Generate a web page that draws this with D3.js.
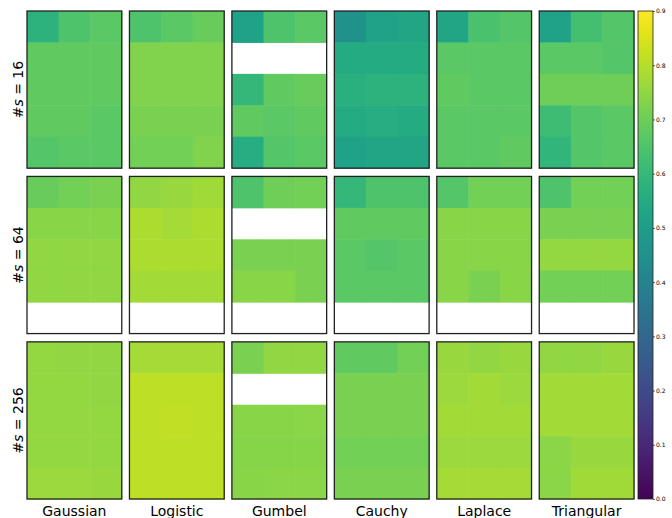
<!DOCTYPE html>
<html>
<head>
<meta charset="utf-8">
<script src="https://cdn.jsdelivr.net/npm/d3@7"></script>
<style>
  html, body { margin: 0; padding: 0; background: #fff; }
  svg { display: block; font-family: "DejaVu Sans", sans-serif; }
</style>
</head>
<body>
<svg id="chart" width="672" height="518"></svg>
<script>
// Distributions (columns of the grid) and sample sizes (rows of the grid)
const distributions = ["Gaussian", "Logistic", "Gumbel", "Cauchy", "Laplace", "Triangular"];
const sampleSizes = [16, 64, 256];
const colorTicks = [0.0, 0.1, 0.2, 0.3, 0.4, 0.5, 0.6, 0.7, 0.8, 0.9];

// Each panel: 5 rows x 3 columns of scores; null = not evaluated
const s16 = [
  [[0.58,0.65,0.67],[0.68,0.68,0.68],[0.68,0.68,0.68],[0.68,0.68,0.67],[0.66,0.67,0.67]],
  [[0.65,0.67,0.69],[0.73,0.73,0.73],[0.73,0.73,0.73],[0.72,0.72,0.72],[0.71,0.71,0.73]],
  [[0.52,0.65,0.67],[null,null,null],[0.60,0.68,0.69],[0.68,0.67,0.68],[0.56,0.66,0.67]],
  [[0.45,0.52,0.53],[0.55,0.55,0.55],[0.57,0.58,0.58],[0.55,0.56,0.55],[0.52,0.53,0.53]],
  [[0.53,0.64,0.66],[0.67,0.67,0.67],[0.68,0.67,0.67],[0.67,0.67,0.67],[0.67,0.67,0.68]],
  [[0.52,0.63,0.66],[0.67,0.67,0.66],[0.70,0.70,0.70],[0.62,0.66,0.67],[0.59,0.66,0.67]]
];
const s64 = [
  [[0.69,0.71,0.72],[0.74,0.74,0.74],[0.75,0.75,0.75],[0.75,0.75,0.75],[null,null,null]],
  [[0.75,0.76,0.77],[0.79,0.78,0.79],[0.79,0.79,0.79],[0.775,0.775,0.775],[null,null,null]],
  [[0.65,0.70,0.71],[null,null,null],[0.72,0.72,0.72],[0.74,0.74,0.72],[null,null,null]],
  [[0.60,0.65,0.65],[0.68,0.68,0.68],[0.67,0.66,0.67],[0.67,0.67,0.67],[null,null,null]],
  [[0.66,0.71,0.71],[0.74,0.74,0.74],[0.74,0.74,0.74],[0.74,0.72,0.74],[null,null,null]],
  [[0.65,0.71,0.71],[0.72,0.72,0.72],[0.755,0.755,0.755],[0.71,0.71,0.71],[null,null,null]]
];
const s256 = [
  [[0.755,0.75,0.75],[0.755,0.755,0.75],[0.755,0.755,0.755],[0.755,0.755,0.755],[0.765,0.765,0.76]],
  [[0.78,0.78,0.78],[0.81,0.81,0.81],[0.81,0.815,0.81],[0.81,0.81,0.81],[0.81,0.81,0.81]],
  [[0.72,0.75,0.75],[null,null,null],[0.74,0.74,0.745],[0.735,0.735,0.735],[0.74,0.745,0.745]],
  [[0.68,0.68,0.71],[0.72,0.72,0.72],[0.72,0.72,0.72],[0.71,0.71,0.71],[0.72,0.72,0.72]],
  [[0.76,0.75,0.76],[0.765,0.775,0.765],[0.775,0.775,0.775],[0.765,0.765,0.765],[0.78,0.78,0.78]],
  [[0.75,0.75,0.76],[0.775,0.775,0.775],[0.775,0.775,0.775],[0.745,0.76,0.76],[0.745,0.77,0.77]]
];
const panels = [s16, s64, s256];

const svg = d3.select("#chart");
const color = d3.scaleSequential(d3.interpolateViridis).domain([0, 0.9]);

// Grid of panels
const gridLeft = 27, gridRight = 634, gridTop = 11, gridBottom = 499;
const colBand = d3.scaleBand().domain(distributions).range([gridLeft, gridRight]).paddingInner(0.075);
const rowBand = d3.scaleBand().domain(sampleSizes).range([gridTop, gridBottom]).paddingInner(0.05);

sampleSizes.forEach((s, ri) => {
  distributions.forEach((dist, ci) => {
    const values = panels[ri][ci];
    const x0 = colBand(dist), y0 = rowBand(s);
    const cx = d3.scaleBand().domain(d3.range(3)).range([x0, x0 + colBand.bandwidth()]);
    const cy = d3.scaleBand().domain(d3.range(5)).range([y0, y0 + rowBand.bandwidth()]);
    const g = svg.append("g");
    const cells = [];
    values.forEach((row, r) => row.forEach((v, c) => cells.push({ r, c, v })));
    g.selectAll("rect.cell")
      .data(cells.filter(d => d.v !== null))
      .join("rect")
      .attr("class", "cell")
      .attr("x", d => cx(d.c))
      .attr("y", d => cy(d.r))
      .attr("width", cx.bandwidth() + 0.5)
      .attr("height", cy.bandwidth() + 0.5)
      .attr("fill", d => color(d.v));
    g.append("rect")
      .attr("x", x0)
      .attr("y", y0)
      .attr("width", colBand.bandwidth())
      .attr("height", rowBand.bandwidth())
      .attr("fill", "none")
      .attr("stroke", "#222")
      .attr("stroke-width", 1.3);
  });

  // Row label, rotated
  const yc = rowBand(s) + rowBand.bandwidth() / 2;
  const label = svg.append("text")
    .attr("transform", `translate(23,${yc}) rotate(-90)`)
    .attr("text-anchor", "middle")
    .attr("font-size", 14)
    .attr("fill", "#000");
  label.append("tspan").text("#");
  label.append("tspan").attr("font-style", "italic").text("s");
  label.append("tspan").text(" = " + s);
});

// Column labels
svg.selectAll("text.dist")
  .data(distributions)
  .join("text")
  .attr("class", "dist")
  .attr("x", d => colBand(d) + colBand.bandwidth() / 2)
  .attr("y", 516)
  .attr("text-anchor", "middle")
  .attr("font-size", 14)
  .attr("fill", "#000")
  .text(d => d);

// Colorbar
const cbX = 638, cbW = 15;
const cbScale = d3.scaleLinear().domain([0, 0.9]).range([gridBottom, gridTop]);
const defs = svg.append("defs");
const grad = defs.append("linearGradient")
  .attr("id", "cbgrad")
  .attr("x1", 0).attr("y1", 1).attr("x2", 0).attr("y2", 0);
d3.range(0, 1.0001, 0.05).forEach(t => {
  grad.append("stop").attr("offset", t).attr("stop-color", d3.interpolateViridis(t));
});
svg.append("rect")
  .attr("x", cbX)
  .attr("y", gridTop)
  .attr("width", cbW)
  .attr("height", gridBottom - gridTop)
  .attr("fill", "url(#cbgrad)")
  .attr("stroke", "#222")
  .attr("stroke-width", 0.8);

const cbAxis = d3.axisRight(cbScale)
  .tickValues(colorTicks)
  .tickSize(2)
  .tickPadding(1)
  .tickFormat(d3.format(".1f"));
const axG = svg.append("g")
  .attr("transform", `translate(${cbX + cbW},0)`)
  .call(cbAxis);
axG.select(".domain").remove();
axG.selectAll("text").attr("font-size", 6).attr("font-family", "DejaVu Sans, sans-serif").attr("fill", "#000");
axG.selectAll("line").attr("stroke", "#000").attr("stroke-width", 0.6);
</script>
</body>
</html>
